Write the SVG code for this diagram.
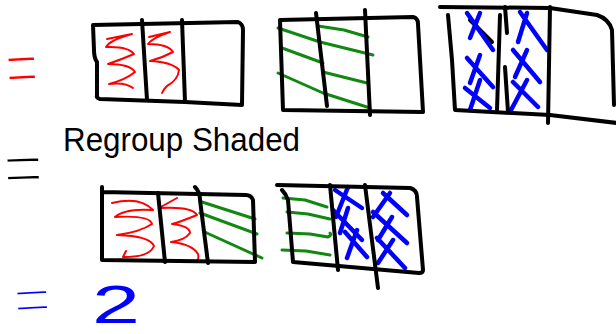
<svg xmlns="http://www.w3.org/2000/svg" width="616" height="334" viewBox="0 0 616 334">
<style>
.k{fill:none;stroke:#000;stroke-width:4;stroke-linecap:round;stroke-linejoin:round}
.r{fill:none;stroke:#ff0000;stroke-width:2;stroke-linecap:round;stroke-linejoin:round}
.g{fill:none;stroke:#118811;stroke-width:3;stroke-linecap:round;stroke-linejoin:round}
.b{fill:none;stroke:#0000ff;stroke-width:4.5;stroke-linecap:round;stroke-linejoin:round}
.eq{font-family:"Liberation Sans",Arial,sans-serif;stroke:#fff;stroke-width:2.6;paint-order:normal}
.hw{font-family:"Liberation Sans",Arial,sans-serif}
</style>
<rect width="616" height="334" fill="#fff"/>
<!-- equals signs and texts -->
<text class="eq" x="5" y="92" font-size="72" textLength="33" lengthAdjust="spacingAndGlyphs" fill="#ff0000" transform="rotate(-3 20 62)">=</text>
<text class="hw" x="63" y="151" font-size="34" textLength="237" lengthAdjust="spacingAndGlyphs" fill="#000">Regroup Shaded</text>
<text class="eq" x="3" y="192" font-size="70" textLength="40" lengthAdjust="spacingAndGlyphs" fill="#000" transform="rotate(-2 20 163)">=</text>
<text class="eq" x="13" y="320" font-size="60" textLength="38" lengthAdjust="spacingAndGlyphs" fill="#0000ff" transform="rotate(-3 32 295)">=</text>
<text class="hw" x="92" y="322.5" font-size="54" textLength="48" lengthAdjust="spacingAndGlyphs" fill="#0000ff">2</text>

<!-- top row, rect 1 -->
<g id="top-red">
<path class="r" d="M107,39 L132,34 Q110,40 106,47 Q128,46 134,54 Q120,60 108,64 Q130,64 135,72 Q125,80 109,84 Q125,82 133,88"/>
<path class="r" d="M149,37 L170,32 Q152,38 148,44 Q168,44 173,52 Q162,58 150,61 Q172,62 179,70 Q178,80 167,86 Q163,90 162,93"/>
<path class="k" d="M93,25 L238,22 Q243,24 243,30 L242,105 L185,102 L100,99 Q96,98 97,95 L97,62 Q94,58 94,50 Z"/>
<path class="k" d="M142,20 L147,100"/>
<path class="k" d="M182,20 L185,102"/>
</g>

<!-- top row, rect 2 -->
<g id="top-green">
<path class="g" d="M278,28 L320,42 L373,55"/>
<path class="g" d="M318,26 L344,30 L368,37"/>
<path class="g" d="M282,48 L323,63"/>
<path class="g" d="M323,72 L367,83"/>
<path class="g" d="M278,73 L323,93 L370,108"/>
<path class="k" d="M280,20 L413,17 Q418,18 418,24 L423,112 L283,110 Z"/>
<path class="k" d="M316,13 L327,106"/>
<path class="k" d="M365,10 L370,115"/>
</g>

<!-- top row, rect 3 -->
<g id="top-blue">
<path class="k" d="M470,20 L492,42"/>
<path class="b" d="M467,13 L493,50 M480,13 L470,38"/>
<path class="b" d="M467,58 L493,87 M480,55 L470,83"/>
<path class="b" d="M465,88 L490,108 M480,80 L470,110"/>
<path class="b" d="M520,12 L547,50 M527,13 L518,42"/>
<path class="b" d="M513,50 L540,82 M527,50 L515,77"/>
<path class="b" d="M513,82 L538,107 M527,80 L510,112"/>
<path class="k" stroke-width="3" d="M440,7 L550,8 L597,15 Q609,19 612,30 L614,105"/>
<path class="k" d="M448,15 L452,60 L455,110 L550,115 L617,123"/>
<path class="k" d="M500,15 L497,110"/>
<path class="k" stroke-width="3" d="M505,7 L507,33 M505,67 L508,112"/>
<path class="k" d="M550,7 L548,123"/>
</g>

<!-- bottom row, rect 1 -->
<g id="bottom-mixed">
<path class="r" d="M112,203 Q140,196 153,210 Q125,208 115,217 Q150,215 152,224 Q140,232 117,235 Q150,236 154,246 Q150,257 124,257 M123,257 L126,251"/>
<path class="r" d="M177,198 L159,208 Q192,206 197,215 Q180,222 172,224 Q190,226 190,233 Q185,240 171,242 Q192,244 198,254 Q200,262 192,262"/>
<path class="g" d="M202,202 L255,219"/>
<path class="g" d="M200,213 L257,234"/>
<path class="g" d="M205,232 L209,234 L262,258"/>
<path class="k" d="M102,187 L102,260 L255,262 L253,200 Q251,195 246,195 L102,192"/>
<path class="k" d="M158,193 L165,262"/>
<path class="k" d="M195,187 Q200,192 200,200 L208,263"/>
</g>

<!-- bottom row, rect 2 -->
<g id="bottom-mixed-2">
<path class="g" d="M283,198 L305,200 L327,207"/>
<path class="g" d="M287,212 L308,214 L330,219"/>
<path class="g" d="M287,233 L310,234 L328,237 Q332,235 330,233"/>
<path class="g" d="M282,250 L306,251 L330,255"/>
<path class="b" d="M335,190 L362,208 M348,187 L336,217"/>
<path class="b" d="M333,210 L362,240 M348,208 L340,233"/>
<path class="b" d="M345,232 L367,257 M357,230 L347,258"/>
<path class="b" d="M383,193 L407,215 M390,193 L373,217"/>
<path class="b" d="M373,212 L407,243 M392,217 L378,240"/>
<path class="b" d="M377,238 L405,268 M393,240 L378,263"/>
<path class="k" stroke-width="3" d="M277,185 L410,188"/>
<path class="k" d="M410,188 Q417,190 417,197 L423,270 Q423,273 419,273 L293,262 L288,200 Q286,194 282,190"/>
<path class="k" d="M330,185 L338,270"/>
<path class="k" d="M365,185 L378,288"/>
</g>
</svg>
